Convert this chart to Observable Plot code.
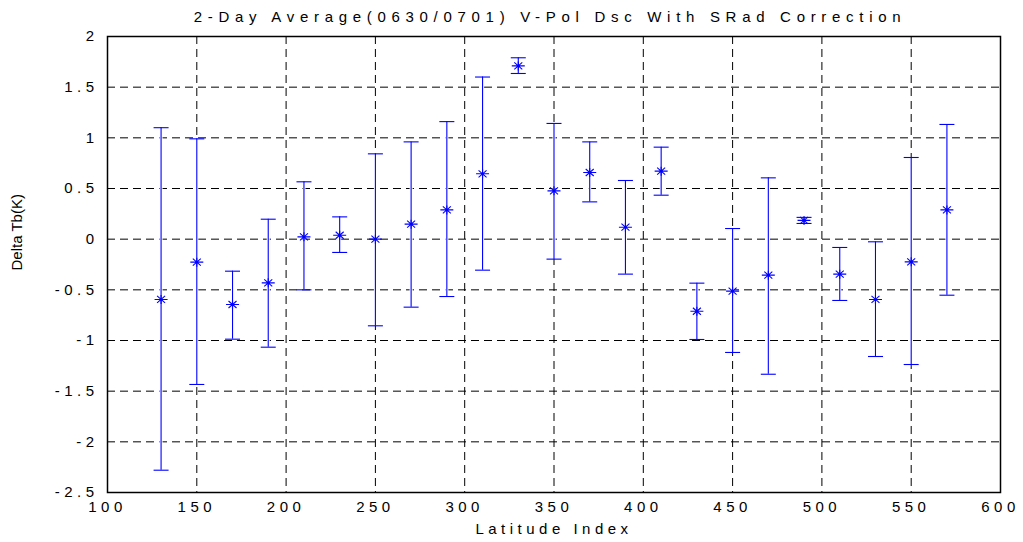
<!DOCTYPE html>
<html>
<head>
<meta charset="utf-8">
<script src="https://cdn.jsdelivr.net/npm/d3@7"></script>
<script src="https://cdn.jsdelivr.net/npm/@observablehq/plot@0.6"></script>
<style>
  body { margin: 0; background: #fff; }
  #chart svg { background: #fff; }
</style>
</head>
<body>
<div id="chart"></div>
<script>
// ---- Data ----
const latitudeIndex = [130, 150, 170, 190, 210, 230, 250, 270, 290, 310, 330, 350, 370, 390, 410, 430, 450, 470, 490, 510, 530, 550, 570];
const meanDeltaTb   = [-0.595, -0.227, -0.645, -0.431, 0.023, 0.039, 0.0, 0.148, 0.289, 0.645, 1.71, 0.477, 0.658, 0.118, 0.671, -0.711, -0.513, -0.355, 0.185, -0.345, -0.595, -0.224, 0.289];
const upperDeltaTb  = [1.10, 0.99, -0.316, 0.197, 0.566, 0.22, 0.842, 0.96, 1.16, 1.60, 1.79, 1.142, 0.96, 0.579, 0.908, -0.434, 0.105, 0.605, 0.215, -0.082, -0.026, 0.806, 1.132];
const lowerDeltaTb  = [-2.28, -1.434, -0.987, -1.066, -0.50, -0.131, -0.855, -0.671, -0.566, -0.306, 1.635, -0.197, 0.368, -0.345, 0.434, -0.99, -1.118, -1.333, 0.155, -0.605, -1.158, -1.237, -0.553];
const xTicks = [100, 150, 200, 250, 300, 350, 400, 450, 500, 550, 600];
const yTicks = [-2.5, -2, -1.5, -1, -0.5, 0, 0.5, 1, 1.5, 2];
const titleText = "2-Day Average(0630/0701) V-Pol Dsc With SRad Correction";
const xLabel = "Latitude Index";
const yLabel = "Delta Tb(K)";

const rows = latitudeIndex.map((x, i) => ({x, mean: meanDeltaTb[i], hi: upperDeltaTb[i], lo: lowerDeltaTb[i]}));

const blue = "#0000ff";
const capSymbol = { draw(ctx) { ctx.moveTo(-7.5, 0); ctx.lineTo(7.5, 0); } };
const starSymbol = { draw(ctx) {
  ctx.moveTo(-6.5, 0); ctx.lineTo(6.5, 0);
  ctx.moveTo(-4, -3.5); ctx.lineTo(4, 3.5);
  ctx.moveTo(-4, 3.5); ctx.lineTo(4, -3.5);
  ctx.moveTo(0, -4.5); ctx.lineTo(0, 4.5);
} };

const chart = Plot.plot({
  width: 1023,
  height: 542,
  marginLeft: 107,
  marginRight: 23,
  marginTop: 36,
  marginBottom: 50,
  style: { fontFamily: "'Liberation Sans', Arial, sans-serif", fontSize: "15px", color: "#000", background: "#fff" },
  x: { domain: [100, 600], ticks: xTicks },
  y: { domain: [-2.5, 2], ticks: yTicks },
  marks: [
    Plot.gridX(xTicks, { stroke: "#000", strokeOpacity: 1, strokeWidth: 1, strokeDasharray: "8,5" }),
    Plot.gridY(yTicks, { stroke: "#000", strokeOpacity: 1, strokeWidth: 1, strokeDasharray: "8,5" }),
    Plot.axisX(xTicks, { tickSize: 0, tickPadding: 9, tickFormat: d => String(d), label: null }),
    Plot.axisY(yTicks, { tickSize: 0, tickPadding: 9, tickFormat: d => String(d), label: null }),
    // white underlay so the dashed grid does not darken bars that sit on a grid line
    Plot.ruleX(rows, { x: "x", y1: "lo", y2: "hi", stroke: "#fff", strokeWidth: 3 }),
    Plot.ruleX(rows, { x: "x", y1: "lo", y2: "hi", stroke: blue, strokeWidth: 1.1 }),
    Plot.dot(rows, { x: "x", y: "hi", symbol: capSymbol, stroke: blue, strokeWidth: 1.1, fill: "none" }),
    Plot.dot(rows, { x: "x", y: "lo", symbol: capSymbol, stroke: blue, strokeWidth: 1.1, fill: "none" }),
    Plot.dot(rows, { x: "x", y: "mean", symbol: starSymbol, stroke: blue, strokeWidth: 1.1, fill: "none" }),
    Plot.frame({ stroke: "#000", strokeWidth: 1.5 }),
    Plot.text([titleText], { frameAnchor: "top", dy: -25, dx: -4, text: d => d, fontSize: 15 }),
    Plot.text([xLabel], { frameAnchor: "bottom", dy: 41, text: d => d, fontSize: 15 }),
    Plot.text([yLabel], { frameAnchor: "left", dx: -90, dy: 6, rotate: -90, text: d => d, fontSize: 15 })
  ]
});

document.getElementById("chart").appendChild(chart);

// letter spacing similar to the reference's spaced-out text
const svg = d3.select(chart);
svg.selectAll('g[aria-label="x-axis tick label"] text, g[aria-label="y-axis tick label"] text').style("letter-spacing", "4.5px");
svg.selectAll('g[aria-label="text"] text').each(function() {
  const t = d3.select(this).text();
  if (t === titleText) d3.select(this).style("letter-spacing", "5.7px");
  if (t === xLabel) d3.select(this).style("letter-spacing", "4.5px");
});
</script>
</body>
</html>
